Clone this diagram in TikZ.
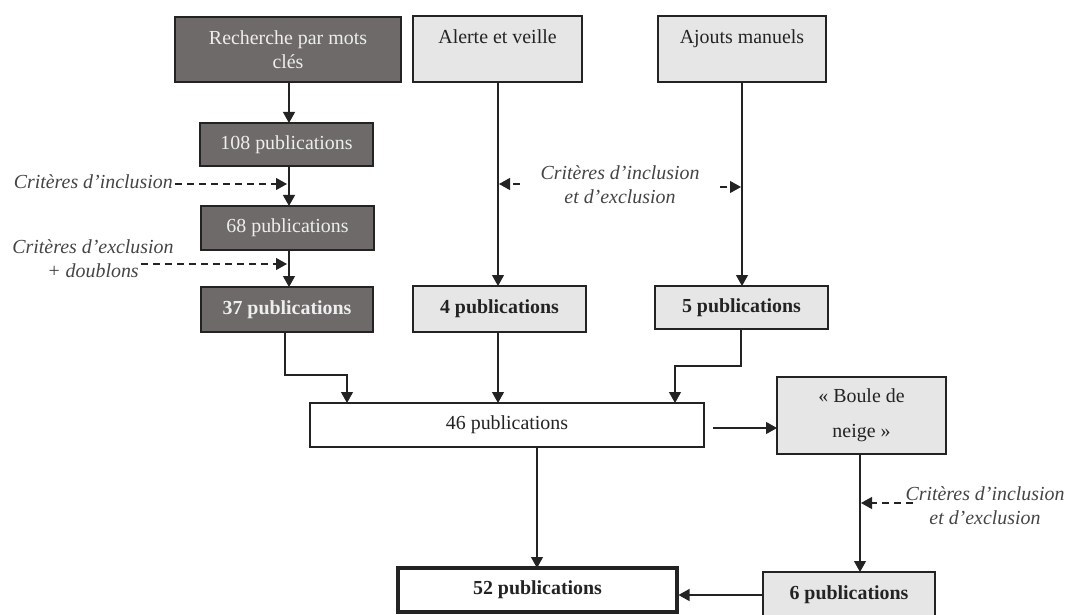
\documentclass[tikz,border=0pt]{standalone}
\usepackage{fontspec}
\setmainfont{Liberation Serif}
\usetikzlibrary{arrows.meta}
\definecolor{dkfill}{RGB}{110,106,105}
\definecolor{ltfill}{RGB}{230,230,230}
\definecolor{ink}{RGB}{35,35,35}
\definecolor{lttext}{RGB}{238,238,238}
\begin{document}
\begin{tikzpicture}[x=1pt,y=-1pt,
  font=\fontsize{19.9}{24}\selectfont,
  box/.style={draw=ink, line width=1.2pt, inner sep=0pt, outer sep=0pt, align=center, text=ink},
  dark/.style={box, fill=dkfill, text=lttext},
  light/.style={box, fill=ltfill},
  whitebox/.style={box, fill=white},
  arr/.style={draw=ink, line width=1.2pt, -{Triangle[length=11pt,width=12pt]}},
  darr/.style={arr, dash pattern=on 7pt off 5pt},
  crit/.style={font=\fontsize{19.9}{24}\selectfont\itshape, text=ink!85, align=center, inner sep=0pt}]
\useasboundingbox (0,0) rectangle (1069,615);
\clip (0,0) rectangle (1069,615);

% boxes
\node[dark, minimum width=226pt, minimum height=65pt] (rech) at (288,49.5) {Recherche par mots\\clés};
\node[light, minimum width=169pt, minimum height=66pt] (alerte) at (497.5,49) {Alerte et veille\\\mbox{}};
\node[light, minimum width=168pt, minimum height=66pt] (ajouts) at (742,49) {Ajouts manuels\\\mbox{}};
\node[dark, minimum width=173pt, minimum height=43pt] (p108) at (286.5,144.5) {108 publications};
\node[dark, minimum width=173pt, minimum height=44pt] (p68) at (287.5,228) {68 publications};
\node[dark, minimum width=172pt, minimum height=45pt] (p37) at (287,309.5) {\textbf{37 publications}};
\node[light, minimum width=173pt, minimum height=46pt] (p4) at (499.5,309) {\textbf{4 publications}};
\node[light, minimum width=173pt, minimum height=43pt] (p5) at (741.5,307.5) {\textbf{5 publications}};
\node[whitebox, minimum width=394pt, minimum height=44pt] (p46) at (507,425) {46 publications};
\node[light, minimum width=169pt, minimum height=77pt] (boule) at (861.5,415.5) {« Boule de\\[11pt]neige »};
\node[whitebox, line width=3.5pt, minimum width=279pt, minimum height=44pt] (p52) at (537.5,590) {\textbf{52 publications}};
\node[light, minimum width=172pt, minimum height=46pt] (p6) at (849,595) {\textbf{6 publications}};

% criteria labels
\node[crit, anchor=east] (k1) at (173,182) {Critères d’inclusion};
\node[crit] (k2) at (93,259) {Critères d’exclusion\\+ doublons};
\node[crit] (k3) at (620,185) {Critères d’inclusion\\et d’exclusion};
\node[crit] (k4) at (985,505.5) {Critères d’inclusion\\et d’exclusion};

% helper coordinates
\coordinate (col1) at (289,0);
\coordinate (col2) at (498,0);
\coordinate (col3) at (742,0);
\coordinate (col4) at (537,0);
\coordinate (col5) at (860,0);
\coordinate (d1s) at (175,184);
\coordinate (d1e) at (287,184);
\coordinate (d2s) at (141,264);
\coordinate (d2e) at (287,264);
\coordinate (d3s) at (520,184);
\coordinate (d3e) at (499,184);
\coordinate (d4s) at (720,187);
\coordinate (d4e) at (741,187);
\coordinate (d5s) at (913,503);
\coordinate (d5e) at (861,503);
\coordinate (e1) at (285,0);
\coordinate (e2) at (347,375);
\coordinate (e3) at (675,366);
\coordinate (h1) at (713,428);
\coordinate (h2) at (0,595);

% solid connectors
\draw[arr] (rech.south -| col1) -- (p108.north -| col1);
\draw[arr] (p108.south -| col1) -- (p68.north -| col1);
\draw[arr] (p68.south -| col1) -- (p37.north -| col1);
\draw[arr] (alerte.south -| col2) -- (p4.north -| col2);
\draw[arr] (ajouts.south -| col3) -- (p5.north -| col3);
\draw[arr] (p37.south -| e1) |- (e2) -- (e2 |- p46.north);
\draw[arr] (p4.south -| col2) -- (p46.north -| col2);
\draw[arr] (p5.south -| 741,0) |- (e3) -- (e3 |- p46.north);
\draw[arr] (h1) -- (h1 -| boule.west);
\draw[arr] (p46.south -| col4) -- (p52.north -| col4);
\draw[arr] (boule.south -| col5) -- (p6.north -| col5);
\draw[arr] (p6.west |- h2) -- ([xshift=1.5pt]p52.east |- h2);

% dashed connectors
\draw[darr] (d1s) -- (d1e);
\draw[darr] (d2s) -- (d2e);
\draw[darr] (d3s) -- (d3e);
\draw[darr] (d4s) -- (d4e);
\draw[darr] (d5s) -- (d5e);
\end{tikzpicture}
\end{document}
